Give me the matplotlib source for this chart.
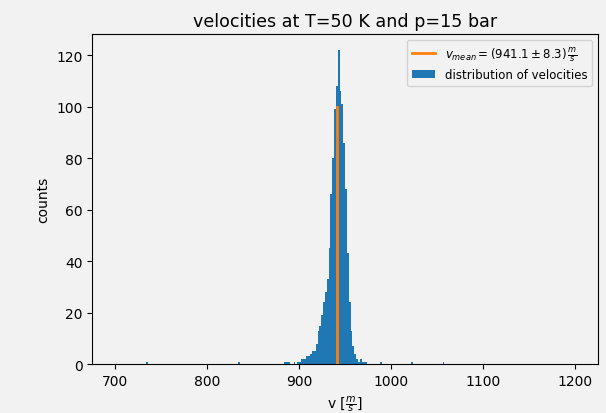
import matplotlib
matplotlib.use("Agg")
import matplotlib.pyplot as plt
import numpy as np

# bin left edges (2 m/s bins) and counts of non-empty bins
bin_left = [734, 834, 884, 886, 888, 894, 898,
            900, 902, 904, 906, 908, 910, 912, 914, 916, 918,
            920, 922, 924, 926, 928, 930, 932, 934, 936, 938,
            940, 942, 944, 946, 948, 950, 952, 954, 956, 958,
            960, 962, 964, 966, 968, 970, 972,
            988, 1022, 1056]
bin_count = [1, 1, 1, 1, 1, 1, 1,
             1, 2, 2, 2, 3, 3, 4, 5, 5, 8,
             13, 15, 19, 24, 28, 33, 45, 66, 80, 99,
             108, 122, 106, 101, 86, 68, 43, 24, 13, 7,
             4, 2, 1, 2, 1, 1, 1,
             1, 1, 1]
hist_range = (700, 1200)
n_bins = 250
v_mean = 941.1
v_err = 8.3
mean_line_height = 100

bg = '#f2f2f2'
fig = plt.figure(figsize=(6.06, 4.14), dpi=100, facecolor=bg)
ax = fig.add_axes([0.152, 0.118, 0.835, 0.797])
ax.set_facecolor(bg)

ax.plot([v_mean, v_mean], [0, mean_line_height], color='#ff7f0e', lw=2,
        label=r'$v_{mean} = (941.1 \pm 8.3)\,\frac{m}{s}$', zorder=3)
centers = np.array(bin_left) + 1.0
ax.hist(centers, bins=n_bins, range=hist_range, weights=bin_count,
        color='#1f77b4', label='distribution of velocities')

ax.set_title('velocities at T=50 K and p=15 bar', fontsize=12.6)
ax.set_xlabel(r'v [$\frac{m}{s}$]', fontsize=10)
ax.set_ylabel('counts', fontsize=10)
ax.tick_params(labelsize=10)
ax.set_yticks([0, 20, 40, 60, 80, 100, 120])
ax.set_xticks([700, 800, 900, 1000, 1100, 1200])
leg = ax.legend(loc='upper right', fontsize=8.5, facecolor=bg)

fig.savefig('out.png', dpi=100, facecolor=bg)
